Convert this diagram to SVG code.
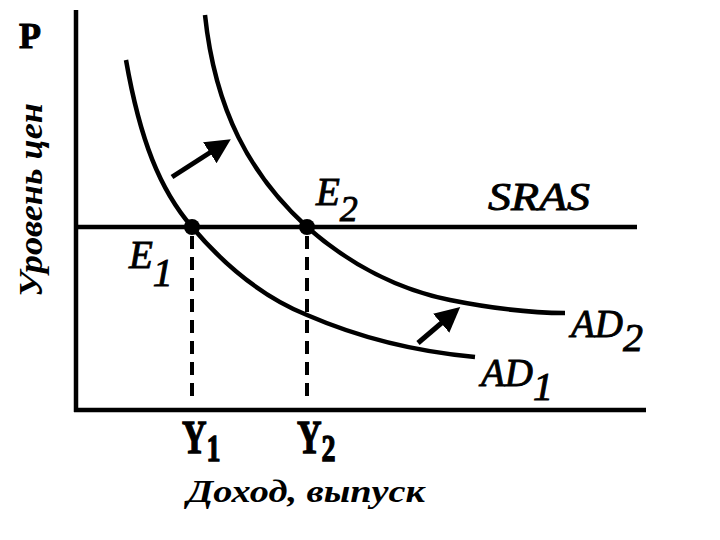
<svg xmlns="http://www.w3.org/2000/svg" width="720" height="540" viewBox="0 0 720 540">
<style>
.ax{stroke:#000;stroke-width:4.5;fill:none}
.crv{stroke:#000;stroke-width:4.5;fill:none;stroke-linecap:butt}
.dash{stroke:#000;stroke-width:4;stroke-dasharray:13,8;fill:none}
text{font-family:"Liberation Serif","Times New Roman",serif;fill:#000}
.it{font-style:italic}
.lbl{font-style:italic;stroke:#000;stroke-width:0.9}
.bd{font-weight:bold}
.yb{font-weight:bold;stroke:#000;stroke-width:1}
</style>
<defs>
<marker id="ah" markerWidth="5" markerHeight="5" refX="1" refY="2.5" orient="auto" markerUnits="strokeWidth">
<path d="M0,0 L5,2.5 L0,5 Z" fill="#000"/>
</marker>
</defs>
<rect width="720" height="540" fill="#fff"/>
<g id="axes">
<line class="ax" x1="76" y1="10" x2="76" y2="412"/>
<line class="ax" x1="74" y1="410" x2="646" y2="410"/>
<text class="yb" x="19" y="48" font-size="36">P</text>
<text class="bd it" font-size="33" transform="translate(42,297) rotate(-90)" textLength="194" lengthAdjust="spacingAndGlyphs">Уровень цен</text>
<text class="bd it" font-size="31" x="187" y="502" textLength="238" lengthAdjust="spacingAndGlyphs">Доход, выпуск</text>
</g>
<g id="SRAS">
<line class="crv" x1="76" y1="227" x2="637" y2="227" stroke-width="3.5"/>
<text class="lbl" font-size="39" x="488" y="210" textLength="102" lengthAdjust="spacingAndGlyphs">SRAS</text>
</g>
<g id="AD1">
<path class="crv" d="M126,60 C140,140 160,190 192,227 C230,272 270,300 307,315 C360,338 420,352 475,357"/>
<text class="lbl" font-size="39" x="481" y="386">AD<tspan font-size="40" dy="14">1</tspan></text>
</g>
<g id="AD2">
<path class="crv" d="M205,15 C215,110 250,175 307,227 C350,265 400,290 450,300 C490,308 530,313 565,313"/>
<text class="lbl" font-size="39" x="571" y="337">AD<tspan font-size="40" dy="14">2</tspan></text>
</g>
<g id="E1">
<circle cx="192" cy="227" r="8" fill="#000"/>
<text class="lbl" font-size="39" x="129" y="268">E<tspan font-size="40" dy="18">1</tspan></text>
</g>
<g id="E2">
<circle cx="307" cy="227" r="8" fill="#000"/>
<text class="lbl" font-size="39" x="316" y="205">E<tspan font-size="36" dy="16">2</tspan></text>
</g>
<g id="Y1">
<text class="yb" font-size="34" transform="translate(182,453) scale(1,1.35)">Y<tspan font-size="28" dy="6">1</tspan></text>
</g>
<g id="Y2">
<text class="yb" font-size="34" transform="translate(297,453) scale(1,1.35)">Y<tspan font-size="28" dy="6">2</tspan></text>
</g>
<g id="connectors">
<line class="dash" x1="192" y1="236" x2="192" y2="402"/>
<line class="dash" x1="307" y1="236" x2="307" y2="402"/>
<line x1="172" y1="177" x2="214" y2="150" stroke="#000" stroke-width="5" marker-end="url(#ah)"/>
<line x1="418" y1="343" x2="445" y2="320" stroke="#000" stroke-width="5" marker-end="url(#ah)"/>
</g>
</svg>
